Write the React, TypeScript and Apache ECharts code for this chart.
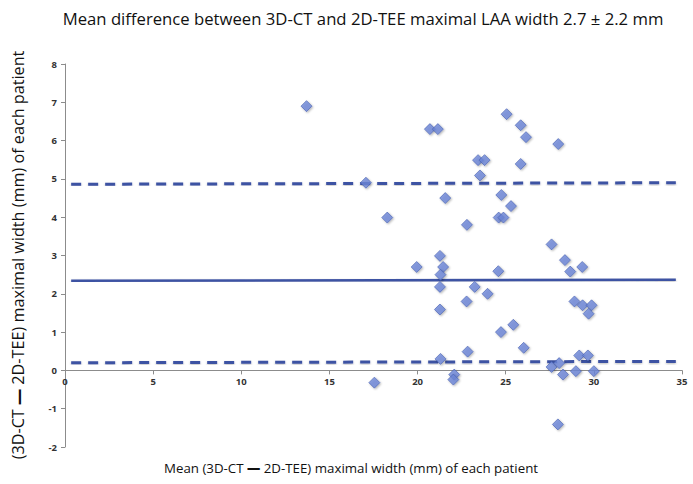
import React, { useEffect, useRef } from "react";
import * as echarts from "echarts";

const titleText = "Mean difference between 3D-CT and 2D-TEE maximal LAA width 2.7 ± 2.2 mm";
const xTitle = "Mean (3D-CT {d|—} 2D-TEE) maximal width (mm) of each patient";
const yTitle = "(3D-CT {d|—} 2D-TEE) maximal width (mm) of each patient";

// patient points: [mean width, difference]
const points: [number, number][] = [
  [13.7, 6.9], [17.07, 4.9], [17.55, -0.32], [18.28, 3.99], [19.95, 2.7],
  [20.7, 6.3], [21.15, 6.3], [21.27, 2.99], [21.57, 4.5], [21.45, 2.7],
  [21.3, 2.5], [21.27, 2.18], [21.27, 1.59], [21.3, 0.3], [22.08, -0.11],
  [22.03, -0.24], [22.8, 3.8], [22.78, 1.8], [22.84, 0.49], [23.24, 2.18],
  [23.43, 5.49], [23.8, 5.49], [23.54, 5.09], [23.97, 2.0], [24.58, 2.59],
  [24.75, 4.58], [24.6, 3.99], [24.87, 3.99], [24.73, 1.0], [25.05, 6.69],
  [25.3, 4.29], [25.43, 1.19], [25.85, 6.4], [25.85, 5.39], [26.15, 6.09],
  [26.02, 0.59], [27.98, 5.91], [27.6, 3.29], [28.36, 2.88], [28.66, 2.58],
  [29.34, 2.7], [28.9, 1.8], [29.36, 1.7], [29.87, 1.7], [29.7, 1.48],
  [29.17, 0.39], [29.66, 0.39], [27.6, 0.09], [28.03, 0.19], [28.25, -0.11],
  [28.98, -0.02], [30.0, -0.02], [27.96, -1.41],
];

const lineX = [0.35, 34.65];
const meanLine = [2.34, 2.37];
const upperLine = [4.86, 4.9];
const lowerLine = [0.2, 0.235];

const yMin = -2;
const yMax = 8;
const lineColor = "#3d52a3";

export default function App() {
  const ref = useRef<HTMLDivElement>(null);
  useEffect(() => {
    document.body.style.margin = "0";
    const chart = echarts.init(ref.current!, null, { renderer: "svg" });
    const mk = (ys: number[]) => lineX.map((x, i) => [x, ys[i]]);
    const gridTop = 64;
    const gridBottom = 37;
    const plotH = 484 - gridTop - gridBottom;
    const zeroOffset = -((0 - yMin) / (yMax - yMin)) * plotH;
    const lineStyleShadow = {
      shadowColor: "rgba(0,0,0,0.25)",
      shadowBlur: 2,
      shadowOffsetY: 1,
    };
    const labelStyle = {
      color: "#333",
      fontSize: 9.5,
      fontWeight: "bold",
      fontFamily: "Open Sans",
    };
    chart.setOption({
      animation: false,
      backgroundColor: "#ffffff",
      textStyle: { fontFamily: "Open Sans" },
      grid: { left: 65, right: 11, top: gridTop, bottom: gridBottom },
      xAxis: {
        type: "value",
        min: 0,
        max: 35,
        interval: 5,
        offset: zeroOffset,
        splitLine: { show: false },
        axisLine: { onZero: false, lineStyle: { color: "#8c8c8c", width: 1 } },
        axisTick: { show: true, length: 4, lineStyle: { color: "#8c8c8c" } },
        axisLabel: { ...labelStyle, margin: 6 },
      },
      yAxis: {
        type: "value",
        min: yMin,
        max: yMax,
        interval: 1,
        splitLine: { show: false },
        axisLine: { show: true, onZero: false, lineStyle: { color: "#8c8c8c", width: 1 } },
        axisTick: { show: true, length: 4, lineStyle: { color: "#8c8c8c" } },
        axisLabel: { ...labelStyle, margin: 8 },
      },
      graphic: [
        {
          type: "text",
          x: 363,
          y: 18,
          style: {
            text: titleText,
            fontSize: 16.7,
            fontFamily: "Open Sans",
            fill: "#111",
            align: "center",
            verticalAlign: "middle",
          },
        },
        {
          type: "text",
          x: 351,
          y: 468,
          style: {
            text: xTitle,
            fontSize: 13.3,
            fontFamily: "Open Sans",
            fill: "#111",
            align: "center",
            verticalAlign: "middle",
            rich: { d: { fontSize: 13.3, fontWeight: 900, fontFamily: "Open Sans", fill: "#111" } },
          },
        },
        {
          type: "text",
          x: 18,
          y: 255,
          rotation: Math.PI / 2,
          style: {
            text: yTitle,
            fontSize: 16.2,
            fontFamily: "Open Sans",
            fill: "#111",
            align: "center",
            verticalAlign: "middle",
            rich: { d: { fontSize: 16.2, fontWeight: 900, fontFamily: "Open Sans", fill: "#111" } },
          },
        },
      ],
      series: [
        {
          type: "line",
          data: mk(upperLine),
          symbol: "none",
          lineStyle: { color: lineColor, width: 3, type: [10, 7], ...lineStyleShadow },
          z: 2,
        },
        {
          type: "line",
          data: mk(meanLine),
          symbol: "none",
          lineStyle: { color: lineColor, width: 2.5, ...lineStyleShadow },
          z: 2,
        },
        {
          type: "line",
          data: mk(lowerLine),
          symbol: "none",
          lineStyle: { color: lineColor, width: 3, type: [10, 7], ...lineStyleShadow },
          z: 2,
        },
        {
          type: "scatter",
          data: points,
          symbol: "diamond",
          symbolSize: [11, 11],
          itemStyle: {
            color: "#6d87d8",
            borderColor: "#4760b0",
            borderWidth: 0.8,
            shadowColor: "rgba(0,0,0,0.35)",
            shadowBlur: 2,
            shadowOffsetX: 1,
            shadowOffsetY: 1,
          },
          z: 3,
        },
      ],
    });
    return () => chart.dispose();
  }, []);
  return <div ref={ref} style={{ width: 693, height: 484 }} />;
}
